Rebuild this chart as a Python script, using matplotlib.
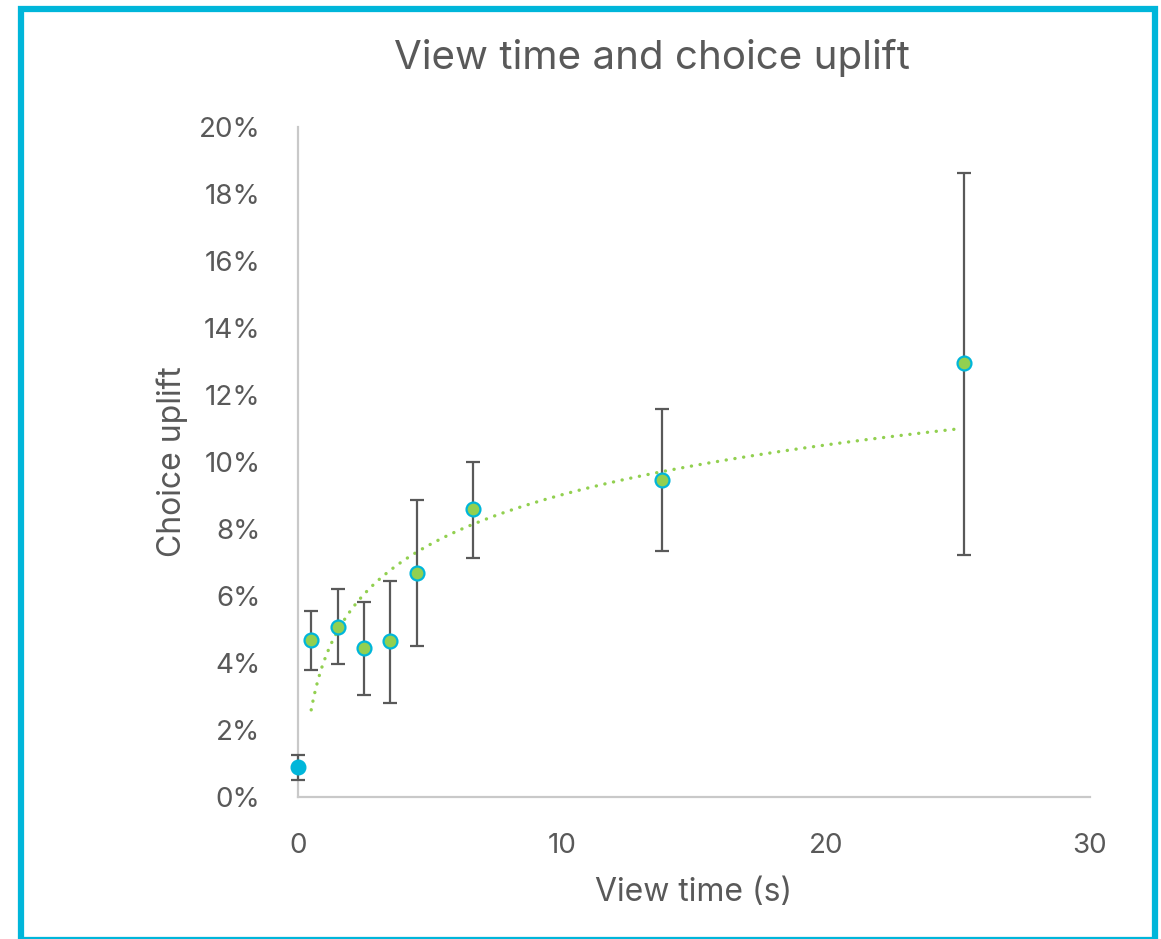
import numpy as np
import matplotlib.pyplot as plt
from matplotlib.patches import Rectangle
from matplotlib.ticker import FuncFormatter

plt.rcParams['font.family'] = ['Inter', 'DejaVu Sans']

TEXT = '#595959'
GREEN = '#92D050'
CYAN = '#00B6DA'
ERR = '#595959'
SPINE = '#C9C9C9'

# ── Data ──────────────────────────────────────────────────────────────────────
# baseline point at view time 0
base_x = [0.0]
base_y = [0.9]
base_lo = [0.5]
base_hi = [1.25]

# binned view-time points
view_time = [0.5, 1.5, 2.5, 3.5, 4.5, 6.64, 13.8, 25.24]
uplift = [4.69, 5.08, 4.45, 4.65, 6.68, 8.59, 9.46, 12.96]
err_lo = [3.80, 3.96, 3.04, 2.80, 4.51, 7.14, 7.33, 7.21]
err_hi = [5.55, 6.22, 5.82, 6.46, 8.86, 10.00, 11.58, 18.64]

x_ticks = [0, 10, 20, 30]
y_ticks = [0, 2, 4, 6, 8, 10, 12, 14, 16, 18, 20]

# ── Figure ────────────────────────────────────────────────────────────────────
fig = plt.figure(figsize=(11.61, 9.39), dpi=100)
ax = fig.add_axes([298 / 1161, 1 - 797 / 939, 792 / 1161, 670 / 939])

# logarithmic trendline fitted to the binned points (as Excel does)
vt = np.array(view_time)
up = np.array(uplift)
b, a = np.polyfit(np.log(vt), up, 1)
xs = np.linspace(vt.min(), vt.max() - 0.2, 300)
ax.plot(xs, a + b * np.log(xs), color=GREEN, lw=2.4,
        linestyle=(0, (0.05, 2.6)), dash_capstyle='round', zorder=2)

# error bars
ax.errorbar(base_x, base_y,
            yerr=[np.array(base_y) - base_lo, np.array(base_hi) - base_y],
            fmt='none', ecolor=ERR, elinewidth=1.6, capsize=5, capthick=1.6,
            zorder=3, clip_on=False)
ax.errorbar(view_time, uplift,
            yerr=[up - np.array(err_lo), np.array(err_hi) - up],
            fmt='none', ecolor=ERR, elinewidth=1.6, capsize=5, capthick=1.6,
            zorder=3)

# markers
ax.plot(base_x, base_y, 'o', ms=10.5, color=CYAN, mec=CYAN, zorder=4,
        clip_on=False)
ax.plot(view_time, uplift, 'o', ms=10, mfc=GREEN, mec=CYAN, mew=1.6,
        zorder=4)

ax.set_xlim(0, 30)
ax.set_ylim(0, 20)
ax.set_xticks(x_ticks)
ax.set_yticks(y_ticks)
ax.yaxis.set_major_formatter(FuncFormatter(lambda v, _: f'{v:.0f}%'))
ax.tick_params(length=0, labelsize=20, colors=TEXT)
ax.tick_params(axis='x', pad=26)
ax.tick_params(axis='y', pad=27)

for side in ['top', 'right']:
    ax.spines[side].set_visible(False)
for side in ['left', 'bottom']:
    ax.spines[side].set_color(SPINE)
    ax.spines[side].set_linewidth(1.6)

ax.set_xlabel('View time (s)', fontsize=23, color=TEXT, labelpad=13)
ax.set_ylabel('Choice uplift', fontsize=23, color=TEXT, labelpad=8)
fig.text(652 / 1161, 1 - 58 / 939, 'View time and choice uplift',
         fontsize=29, color=TEXT, ha='center', va='center')

# cyan frame around the chart
fig.patches.append(Rectangle((21 / 1161, -1 / 939), 1133.5 / 1161, 931 / 939,
                             transform=fig.transFigure, fill=False,
                             edgecolor=CYAN, lw=4.5))

fig.savefig('out.png', dpi=100)
